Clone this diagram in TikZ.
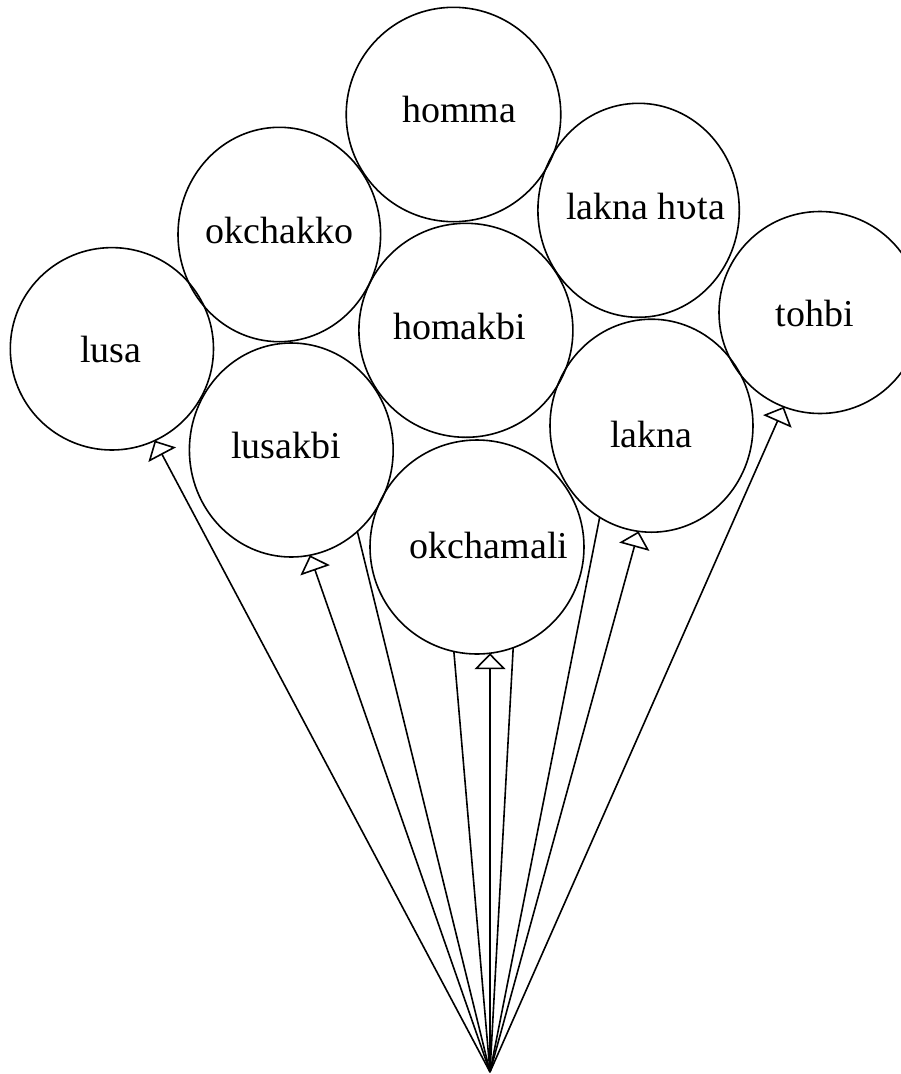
\documentclass[tikz,border=0pt]{standalone}
\usepackage{fontspec}
\setmainfont{Liberation Serif}
\newfontfamily\ipafont[Scale=0.9]{DejaVu Serif}
\usetikzlibrary{arrows.meta,shapes.geometric,backgrounds}
\begin{document}
\begin{tikzpicture}[x=1pt,y=-1pt,
  balloon/.style={ellipse, fill=white, draw=none, inner sep=0pt, outer sep=0pt},
  outline/.style={line width=1.6pt},
  lbl/.style={font=\fontsize{38}{40}\selectfont, inner sep=0pt, anchor=base},
  stringline/.style={line width=1.6pt},
  tied/.style={stringline, -{Triangle[open, length=16pt, width=31pt]}}]
\useasboundingbox (0,0) rectangle (900,1074);
\def\balloonlist{homma/453.5/114.5/107.3/107.2,
  okchakko/279.3/234.5/101.3/107.2,
  laknahvta/638.6/210.3/100.7/107,
  lusa/111.9/348.8/101.6/101.2,
  homakbi/465.9/330.3/107/107,
  tohbi/820/312.5/101/101,
  lusakbi/291.3/450/101.9/107,
  lakna/651.5/425.7/101.5/106.5,
  okchamali/477/547/107/107}
% balloon bodies (white fill)
\foreach \n/\x/\y/\a/\b in \balloonlist {
  \node[balloon, minimum width={2*\a pt}, minimum height={2*\b pt}] (\n) at (\x,\y) {};
}
% balloon outlines
\foreach \n/\x/\y/\a/\b in \balloonlist {
  \draw[outline] (\n.center) ellipse [x radius=\a pt, y radius=\b pt];
}
% labels
\node[lbl] (homma-t) at (459,122.7) {homma};
\node[lbl] (okchakko-t) at (279.3,243.3) {okchakko};
\node[lbl] (laknahvta-t) at (645.5,219) {lakna h{\ipafont ʋ}ta};
\node[lbl] (lusa-t) at (110.8,362.7) {lusa};
\node[lbl] (homakbi-t) at (459.5,339) {homakbi};
\node[lbl] (tohbi-t) at (814.8,326.7) {tohbi};
\node[lbl] (lusakbi-t) at (286,458) {lusakbi};
\node[lbl] (lakna-t) at (651.5,447) {lakna};
\node[lbl] (okchamali-t) at (489,558) {okchamali};
% strings
\coordinate (apex) at (490,1072);
\coordinate (okchakkoTie) at (330,420);
\coordinate (hommaTie) at (446,560);
\coordinate (homakbiTie) at (518,560);
\coordinate (laknahvtaTie) at (613,450);
\begin{scope}[on background layer]
  \draw[stringline] (apex) -- (okchakkoTie);
  \draw[stringline] (apex) -- (hommaTie);
  \draw[stringline] (apex) -- (homakbiTie);
  \draw[stringline] (apex) -- (laknahvtaTie);
  \draw[tied] (apex) -- (lusa.-65.4);
  \draw[tied] (apex) -- (lusakbi.-80.5);
  \draw[tied] (apex) -- (okchamali.-83);
  \draw[tied] (apex) -- (lakna.-97.9);
  \draw[tied] (apex) -- (tohbi.-111.6);
\end{scope}
\end{tikzpicture}
\end{document}
